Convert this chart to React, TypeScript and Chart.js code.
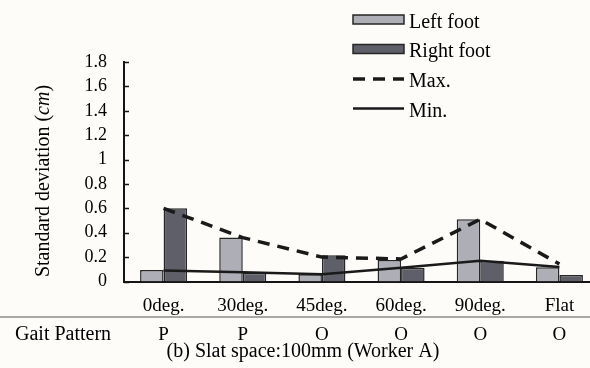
import { useEffect, useRef } from "react";
import { Chart, registerables } from "chart.js";

Chart.register(...registerables);

const categories = ["0deg.", "30deg.", "45deg.", "60deg.", "90deg.", "Flat"];
const leftFoot = [0.094, 0.36, 0.06, 0.176, 0.51, 0.116];
const rightFoot = [0.6, 0.072, 0.215, 0.113, 0.17, 0.053];
const maxValues = [0.6, 0.36, 0.2, 0.185, 0.51, 0.143];
const minValues = [0.09, 0.075, 0.06, 0.113, 0.17, 0.118];
const gaitPattern = ["P", "P", "O", "O", "O", "O"];
const gaitLabel = "Gait Pattern";
const chartTitle = "(b) Slat space:100mm (Worker A)";
const yTitleMain = "Standard deviation (";
const yTitleUnit = "cm";
const yTitleEnd = ")";

const SERIF = "'Liberation Serif', 'Times New Roman', serif";
const BG = "#fdfcf9";
const INK = "#151515";

const decorPlugin = {
  id: "decor",
  beforeDraw(chart: any) {
    const { ctx, width, height } = chart;
    ctx.save();
    ctx.fillStyle = BG;
    ctx.fillRect(0, 0, width, height);
    ctx.restore();
  },
  afterDraw(chart: any) {
    const { ctx } = chart;
    const x = chart.scales.x;
    const y = chart.scales.y;
    ctx.save();
    // inward y ticks
    ctx.strokeStyle = INK;
    ctx.lineWidth = 1.5;
    y.ticks.forEach((t: any) => {
      const py = Math.round(y.getPixelForValue(t.value)) + 0.5;
      ctx.beginPath();
      ctx.moveTo(x.left, py);
      ctx.lineTo(x.left + 5, py);
      ctx.stroke();
    });

    // separator line
    ctx.strokeStyle = "#8c8c8c";
    ctx.lineWidth = 1.5;
    ctx.beginPath();
    ctx.moveTo(0, 317);
    ctx.lineTo(chart.width, 317);
    ctx.stroke();

    // gait pattern row
    ctx.fillStyle = "#000";
    ctx.font = `20px ${SERIF}`;
    ctx.textBaseline = "middle";
    ctx.textAlign = "left";
    ctx.fillText(gaitLabel, 15, 335);
    ctx.font = `19px ${SERIF}`;
    ctx.textAlign = "center";
    gaitPattern.forEach((g, i) => {
      ctx.fillText(g, x.getPixelForValue(i), 335);
    });

    // title
    ctx.font = `20px ${SERIF}`;
    ctx.fillText(chartTitle, 303, 352);

    // y title (rotated, unit italic)
    ctx.save();
    ctx.translate(43.5, 181);
    ctx.rotate(-Math.PI / 2);
    ctx.textAlign = "left";
    ctx.textBaseline = "middle";
    const fN = `20px ${SERIF}`;
    const fI = `italic 20px ${SERIF}`;
    ctx.font = fN;
    const w1 = ctx.measureText(yTitleMain).width;
    const w3 = ctx.measureText(yTitleEnd).width;
    ctx.font = fI;
    const w2 = ctx.measureText(yTitleUnit).width;
    const total = w1 + w2 + w3;
    let sx = -total / 2;
    ctx.font = fN;
    ctx.fillText(yTitleMain, sx, 0);
    sx += w1;
    ctx.font = fI;
    ctx.fillText(yTitleUnit, sx, 0);
    sx += w2;
    ctx.font = fN;
    ctx.fillText(yTitleEnd, sx, 0);
    ctx.restore();

    // legend
    const lx = 353;
    const lw = 51;
    const tx = 409;
    const rows = [22.5, 52, 82, 111.5];
    ctx.font = `20px ${SERIF}`;
    ctx.textAlign = "left";
    ctx.textBaseline = "middle";
    chart.data.datasets.forEach((ds: any, i: number) => {
      const cy = rows[i];
      if (ds.type === "bar") {
        const by = cy - 7.5;
        ctx.fillStyle = ds.backgroundColor;
        ctx.fillRect(lx, by, lw, 9);
        ctx.strokeStyle = ds.borderColor;
        ctx.lineWidth = 1.5;
        ctx.setLineDash([]);
        ctx.strokeRect(lx, by, lw, 9);
      } else {
        ctx.strokeStyle = ds.borderColor;
        ctx.lineWidth = ds.borderWidth;
        ctx.setLineDash(ds.borderDash || []);
        ctx.beginPath();
        ctx.moveTo(lx, cy - 3);
        ctx.lineTo(lx + lw, cy - 3);
        ctx.stroke();
        ctx.setLineDash([]);
      }
      ctx.fillStyle = "#000";
      ctx.fillText(ds.label, tx, cy);
    });
    ctx.restore();
  },
};

export default function App() {
  const ref = useRef<HTMLCanvasElement | null>(null);
  useEffect(() => {
    document.body.style.margin = "0";
    document.body.style.background = BG;
    if (!ref.current) return;
    Chart.defaults.font.family = SERIF;
    Chart.defaults.color = "#000";
    const chart = new Chart(ref.current, {
      type: "bar",
      data: {
        labels: categories,
        datasets: [
          {
            type: "bar",
            label: "Left foot",
            data: leftFoot,
            backgroundColor: "#adaeb6",
            borderColor: "#262626",
            borderWidth: 1.5,
            order: 2,
          },
          {
            type: "bar",
            label: "Right foot",
            data: rightFoot,
            backgroundColor: "#5e5f68",
            borderColor: "#262626",
            borderWidth: 1.5,
            order: 2,
          },
          {
            type: "line",
            label: "Max.",
            data: maxValues,
            borderColor: "#1a1a1a",
            borderWidth: 3.5,
            borderDash: [12, 8],
            pointRadius: 0,
            fill: false,
            order: 1,
          },
          {
            type: "line",
            label: "Min.",
            data: minValues,
            borderColor: "#1a1a1a",
            borderWidth: 2.5,
            pointRadius: 0,
            fill: false,
            order: 1,
          },
        ] as any,
      },
      options: {
        responsive: false,
        animation: false,
        devicePixelRatio: 1,
        layout: { padding: { left: 0, top: 62, right: 0, bottom: 0 } },
        datasets: {
          bar: { categoryPercentage: 0.594, barPercentage: 1 },
        },
        plugins: {
          legend: { display: false },
          tooltip: { enabled: false },
          title: { display: false },
        },
        scales: {
          x: {
            grid: { display: false },
            border: { display: true, color: INK, width: 2 },
            ticks: { font: { size: 19, family: SERIF }, color: "#000", padding: 5 },
            afterFit: (s: any) => {
              s.height = 86.5;
            },
          },
          y: {
            min: 0,
            max: 1.8,
            grid: { display: false },
            border: { display: true, color: INK, width: 2 },
            ticks: {
              stepSize: 0.2,
              autoSkip: false,
              font: { size: 18, family: SERIF },
              color: "#000",
              padding: 9,
              callback: (v: any) => String(+Number(v).toFixed(1)),
            },
            afterFit: (s: any) => {
              s.width = 124;
            },
          },
        },
      },
      plugins: [decorPlugin],
    });
    return () => chart.destroy();
  }, []);
  return (
    <div style={{ width: 590, height: 368, overflow: "hidden", position: "relative", background: BG }}>
      <canvas ref={ref} width={599} height={368} style={{ display: "block" }} />
    </div>
  );
}
